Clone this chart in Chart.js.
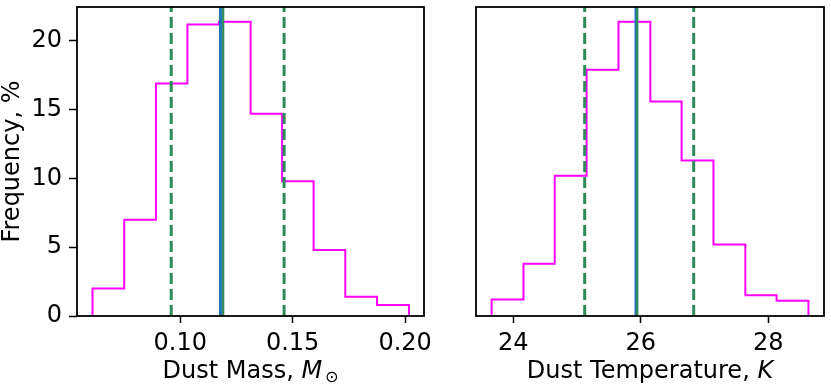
<!DOCTYPE html>
<html>
<head>
<meta charset="utf-8">
<script src="https://cdn.jsdelivr.net/npm/chart.js@4.4.1/dist/chart.umd.min.js"></script>
<style>
  body { margin: 0; background: white; }
  #wrap { position: relative; width: 831px; height: 387px; }
  canvas { position: absolute; top: 0; }
</style>
</head>
<body>
<div id="wrap">
  <canvas id="mass" width="450" height="387" style="left:0px"></canvas>
  <canvas id="temp" width="381" height="387" style="left:450px"></canvas>
</div>
<script>
// histogram of dust mass (bin edges, percent per bin)
const massEdges = [0.0610, 0.0751, 0.0892, 0.1032, 0.1172, 0.1313, 0.1453, 0.1593, 0.1734, 0.1875, 0.2017];
const massFreq = [2.0, 7.0, 16.9, 21.2, 21.4, 14.7, 9.8, 4.8, 1.4, 0.8];
const massDashed = [0.0960, 0.1462];
const massBlue = 0.1179;
const massGreen = 0.1191;
const massTicks = [0.10, 0.15, 0.20];

// histogram of dust temperature
const tempEdges = [23.66, 24.16, 24.65, 25.15, 25.65, 26.15, 26.64, 27.14, 27.64, 28.13, 28.63];
const tempFreq = [1.2, 3.8, 10.2, 17.9, 21.4, 15.6, 11.3, 5.2, 1.5, 1.1];
const tempDashed = [25.12, 26.83];
const tempBlue = 25.925;
const tempGreen = 25.945;
const tempTicks = [24, 26, 28];

const yTop = 22.47;
const yTicks = [0, 5, 10, 15, 20];

const magenta = "#ff00ff";
const green = "#2e8b57";
const blue = "#1f77b4";
const font = "DejaVu Sans";
const fsize = 24;

const stepPoints = (edges, freq) => {
  const pts = [{ x: edges[0], y: 0 }];
  for (let i = 0; i < freq.length; i++) pts.push({ x: edges[i], y: freq[i] });
  pts.push({ x: edges[edges.length - 1], y: 0 });
  return pts;
};

const vline = (x, color, width, dash, order) => ({
  data: [{ x: x, y: 0 }, { x: x, y: yTop }],
  borderColor: color,
  borderWidth: width,
  borderDash: dash,
  pointRadius: 0,
  order: order,
});

const frame = {
  id: "frame",
  afterDatasetsDraw(chart) {
    const a = chart.chartArea;
    const c = chart.ctx;
    c.save();
    c.strokeStyle = "#000";
    c.lineWidth = 1.8;
    c.strokeRect(a.left, a.top, a.right - a.left, a.bottom - a.top);
    c.restore();
  },
};

// x title with italic symbol and a subscript, drawn as text
const xTitle = (parts) => ({
  id: "xtitle",
  afterDraw(chart) {
    const a = chart.chartArea;
    const c = chart.ctx;
    c.save();
    c.fillStyle = "#000";
    c.textBaseline = "alphabetic";
    let total = 0;
    for (const p of parts) {
      c.font = p.style + " " + p.size + "px '" + font + "'";
      total += c.measureText(p.text).width + (p.gap || 0);
    }
    let x = (a.left + a.right) / 2 - total / 2;
    for (const p of parts) {
      c.font = p.style + " " + p.size + "px '" + font + "'";
      x += p.gap || 0;
      c.fillText(p.text, x, 378 + (p.dy || 0));
      x += c.measureText(p.text).width;
    }
    c.restore();
  },
});

const makeChart = (id, edges, freq, dashed, bx, gx, xmin, xmax, xticks, fmt, showY, title, pad) => {
  const datasets = [
    {
      data: stepPoints(edges, freq),
      borderColor: magenta,
      borderWidth: 2,
      stepped: "before",
      pointRadius: 0,
      order: 5,
    },
    vline(dashed[0], green, 3, [11, 5], 3),
    vline(dashed[1], green, 3, [11, 5], 3),
    vline(bx, blue, 3, [], 2),
    vline(gx, green, 2.2, [], 1),
  ];
  return new Chart(document.getElementById(id), {
    type: "line",
    data: { datasets: datasets },
    options: {
      responsive: false,
      animation: false,
      devicePixelRatio: 1,
      layout: { padding: pad },
      plugins: { legend: { display: false }, tooltip: { enabled: false } },
      scales: {
        x: {
          type: "linear",
          min: xmin,
          max: xmax,
          afterBuildTicks: (axis) => {
            axis.ticks = xticks.map((v) => ({ value: v }));
          },
          afterFit: (axis) => {
            axis.height = 71;
            axis.paddingLeft = 0;
            axis.paddingRight = 0;
          },
          ticks: {
            color: "#000",
            font: { family: font, size: fsize },
            padding: 6,
            maxRotation: 0,
            callback: fmt,
          },
          grid: {
            drawOnChartArea: false,
            drawTicks: true,
            tickLength: 7,
            tickWidth: 1.5,
            tickColor: "#000",
          },
          border: { display: false },
        },
        y: {
          display: showY,
          min: 0,
          max: yTop,
          afterBuildTicks: (axis) => {
            axis.ticks = yTicks.map((v) => ({ value: v }));
          },
          afterFit: (axis) => {
            axis.width = showY ? 77 : 0;
            axis.paddingTop = 0;
            axis.paddingBottom = 0;
          },
          ticks: {
            color: "#000",
            font: { family: font, size: fsize },
            padding: 7,
          },
          grid: {
            drawOnChartArea: false,
            drawTicks: true,
            tickLength: 8,
            tickWidth: 1.5,
            tickColor: "#000",
          },
          border: { display: false },
          title: {
            display: true,
            text: "Frequency, %",
            color: "#000",
            font: { family: font, size: fsize },
            padding: { top: -2, bottom: 0 },
          },
        },
      },
    },
    plugins: [frame, xTitle(title)],
  });
};

makeChart(
  "mass", massEdges, massFreq, massDashed, massBlue, massGreen,
  0.0541, 0.2084, massTicks, (v) => v.toFixed(2), true,
  [
    { text: "Dust Mass, ", style: "normal", size: fsize },
    { text: "M", style: "italic", size: fsize },
    { text: "\u2299", style: "normal", size: 16, dy: 4, gap: 3 },
  ],
  { top: 7, right: 26, left: 0, bottom: 0 }
);

makeChart(
  "temp", tempEdges, tempFreq, tempDashed, tempBlue, tempGreen,
  23.415, 28.874, tempTicks, (v) => String(v), false,
  [
    { text: "Dust Temperature, ", style: "normal", size: fsize },
    { text: "K", style: "italic", size: fsize },
  ],
  { top: 7, right: 7, left: 26, bottom: 0 }
);
</script>
</body>
</html>
